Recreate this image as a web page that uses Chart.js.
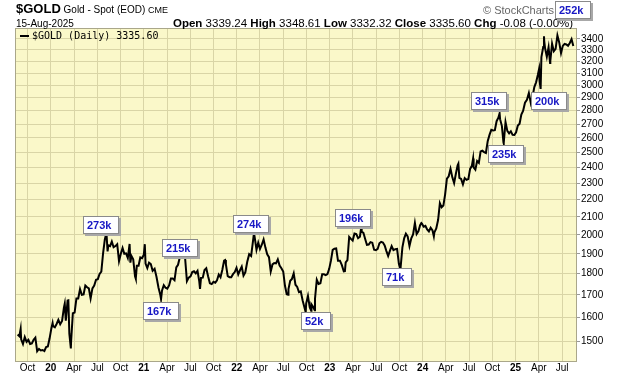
<!DOCTYPE html>
<html>
<head>
<meta charset="utf-8">
<script src="https://cdn.jsdelivr.net/npm/chart.js@4"></script>
<style>
  html, body { margin: 0; padding: 0; background: #fff; }
</style>
</head>
<body>
<canvas id="gold-chart" width="620" height="376"></canvas>
<script>
// Friday closes, one array per year; first Friday of each array below
const firstFriday = { 2019: '2019-08-23', 2020: '2020-01-03', 2021: '2021-01-01', 2022: '2022-01-07', 2023: '2023-01-06', 2024: '2024-01-05', 2025: '2025-01-03' };
const weekly2019 = [1527, 1520, 1507, 1488, 1516, 1497, 1505, 1488, 1490, 1505, 1514, 1459, 1468, 1462, 1464, 1460, 1476, 1478, 1511];
const weekly2020 = [1552, 1562, 1557, 1571, 1589, 1570, 1584, 1643, 1585, 1674, 1530, 1498, 1617, 1620, 1683, 1683, 1727, 1700, 1702, 1743, 1735, 1730, 1683, 1730, 1743, 1771, 1774, 1799, 1810, 1902, 1975, 2000, 1944, 1940, 1964, 1934, 1940, 1950, 1862, 1900, 1930, 1900, 1902, 1879, 1951, 1889, 1872, 1788, 1839, 1839, 1881, 1877];
const weekly2021 = [1895, 1850, 1828, 1855, 1848, 1814, 1824, 1784, 1734, 1700, 1720, 1745, 1733, 1729, 1744, 1777, 1777, 1769, 1831, 1844, 1881, 1895, 1891, 1877, 1764, 1781, 1787, 1808, 1812, 1802, 1814, 1763, 1780, 1781, 1818, 1827, 1788, 1754, 1750, 1761, 1757, 1768, 1796, 1783, 1818, 1865, 1846, 1788, 1783, 1783, 1798, 1808, 1829];
const weekly2022 = [1797, 1817, 1835, 1791, 1807, 1859, 1898, 1889, 1966, 1985, 1921, 1958, 1925, 1947, 1975, 1932, 1897, 1883, 1811, 1846, 1853, 1851, 1871, 1840, 1827, 1811, 1742, 1703, 1727, 1766, 1775, 1802, 1747, 1737, 1712, 1716, 1675, 1644, 1661, 1695, 1644, 1657, 1645, 1681, 1771, 1751, 1754, 1797, 1797, 1793, 1798, 1824];
const weekly2023 = [1865, 1920, 1926, 1928, 1865, 1865, 1842, 1811, 1856, 1868, 1989, 1978, 1969, 2007, 2004, 1982, 1990, 2017, 2011, 1977, 1946, 1948, 1961, 1958, 1921, 1919, 1925, 1955, 1962, 1959, 1943, 1914, 1889, 1915, 1940, 1919, 1924, 1925, 1849, 1833, 1933, 1981, 2006, 1992, 1940, 1981, 2002, 2065, 2004, 2019, 2053, 2063];
const weekly2024 = [2045, 2049, 2029, 2018, 2039, 2024, 2013, 2035, 2083, 2179, 2155, 2165, 2232, 2329, 2344, 2392, 2337, 2301, 2360, 2414, 2334, 2327, 2293, 2332, 2321, 2326, 2391, 2411, 2401, 2386, 2443, 2431, 2507, 2512, 2503, 2497, 2577, 2622, 2658, 2653, 2656, 2721, 2747, 2736, 2685, 2563, 2715, 2650, 2633, 2648, 2622, 2621];
const weekly2025 = [2640, 2690, 2703, 2770, 2798, 2861, 2883, 2936, 2858, 2910, 2984, 3023, 3084, 3037, 3237, 3327, 3319, 3240, 3325, 3203, 3357, 3289, 3310, 3433, 3368, 3273, 3337, 3355, 3350, 3337, 3363, 3398, 3336];

// single sessions that stick out between the Friday closes
const spikeDays = ['2019-09-04', '2020-01-08', '2020-02-24', '2020-03-09', '2020-03-19', '2020-08-06', '2020-08-11', '2020-11-09', '2020-11-30', '2021-01-05', '2021-03-08', '2021-08-09', '2021-11-16', '2022-03-08', '2022-07-21', '2022-09-28', '2022-10-20', '2022-11-03', '2023-02-28', '2023-05-03', '2023-10-05', '2023-12-27', '2024-02-14', '2024-05-20', '2024-07-17', '2024-10-30', '2024-11-14', '2025-04-02', '2025-04-08', '2025-04-21', '2025-04-22', '2025-05-15'];
const spikeClose = [1550, 1575, 1660, 1675, 1470, 2008, 1912, 1855, 1776, 1950, 1680, 1728, 1868, 2010, 1700, 1622, 1628, 1630, 1812, 2040, 1820, 2065, 1992, 2425, 2460, 2780, 2570, 3135, 2970, 3424, 3381, 3186];

// quarter ticks, in months from Jan 2020
const xTickMonths = [-3, 0, 3, 6, 9, 12, 15, 18, 21, 24, 27, 30, 33, 36, 39, 42, 45, 48, 51, 54, 57, 60, 63, 66];
const monthNames = { 3: 'Apr', 6: 'Jul', 9: 'Oct' };
const yTicks = [1500, 1600, 1700, 1800, 1900, 2000, 2100, 2200, 2300, 2400, 2500, 2600, 2700, 2800, 2900, 3000, 3100, 3200, 3300, 3400];

// volume call-outs: text, month of box centre, price where the box meets the line
const noteText = ['273k', '215k', '274k', '167k', '196k', '52k', '71k', '315k', '235k', '200k', '252k'];
const noteMonth = [6.5, 16.7, 25.8, 14.2, 39.0, 34.2, 44.7, 56.6, 58.7, 64.3, 67.4];
const notePrice = [2004, 1883, 2010, 1667, 2043, 1623, 1828, 2805, 2550, 2945, 3590];
const noteSide = ['above', 'above', 'above', 'below', 'above', 'below', 'below', 'above', 'below', 'below', 'above'];

const quote = { date: '15-Aug-2025', open: '3339.24', high: '3348.61', low: '3332.32', close: '3335.60', chg: '-0.08 (-0.00%)' };

function monthOffset(d) {
  const y = d.getUTCFullYear(), m = d.getUTCMonth();
  const dim = new Date(Date.UTC(y, m + 1, 0)).getUTCDate();
  return (y - 2020) * 12 + m + (d.getUTCDate() - 1) / dim;
}

const weeklyByYear = { 2019: weekly2019, 2020: weekly2020, 2021: weekly2021, 2022: weekly2022, 2023: weekly2023, 2024: weekly2024, 2025: weekly2025 };
const points = [];
Object.keys(weeklyByYear).forEach(yr => {
  const start = new Date(firstFriday[yr] + 'T00:00:00Z').getTime();
  weeklyByYear[yr].forEach((v, i) => {
    points.push({ x: monthOffset(new Date(start + i * 7 * 86400000)), y: v });
  });
});
spikeDays.forEach((d, i) => {
  points.push({ x: monthOffset(new Date(d + 'T00:00:00Z')), y: spikeClose[i] });
});
points.sort((a, b) => a.x - b.x);

const FONT = '"Liberation Sans", Arial, sans-serif';
const gridColor = '#d9d5a6';

function drawRun(ctx, x, y, parts) {
  parts.forEach(p => {
    ctx.font = p[1];
    ctx.fillText(p[0], x, y);
    x += ctx.measureText(p[0]).width;
  });
}

const paperPlugin = {
  id: 'paper',
  beforeDraw(chart) {
    const { ctx, chartArea: a } = chart;
    ctx.save();
    ctx.fillStyle = '#fff';
    ctx.fillRect(0, 0, chart.width, chart.height);
    ctx.fillStyle = '#faf8c9';
    ctx.fillRect(a.left, a.top, a.right - a.left, a.bottom - a.top);
    ctx.restore();
  },
  afterDraw(chart) {
    const { ctx, chartArea: a } = chart;
    const xs = chart.scales.x, ys = chart.scales.y;
    ctx.save();
    ctx.strokeStyle = '#aaa78a';
    ctx.lineWidth = 1;
    ctx.strokeRect(a.left - 0.5, a.top - 0.5, a.right - a.left + 1, a.bottom - a.top + 1);

    // in-chart legend
    ctx.fillStyle = '#000';
    ctx.fillRect(a.left + 4, a.top + 6, 9, 2);
    ctx.font = '10px "DejaVu Sans Mono", monospace';
    ctx.textBaseline = 'alphabetic';
    ctx.fillText('$GOLD (Daily) ' + quote.close, a.left + 16, a.top + 10);

    // header
    ctx.fillStyle = '#000';
    drawRun(ctx, 16, 13, [['$GOLD', 'bold 13px ' + FONT], [' Gold - Spot (EOD) ', '10px ' + FONT], ['CME', '9px ' + FONT]]);
    ctx.font = '10px ' + FONT;
    ctx.fillText(quote.date, 16, 27);
    const b = 'bold 11.5px ' + FONT, r = '11.5px ' + FONT;
    drawRun(ctx, 173, 27, [['Open', b], [' ' + quote.open + ' ', r], ['High', b], [' ' + quote.high + ' ', r], ['Low', b], [' ' + quote.low + ' ', r], ['Close', b], [' ' + quote.close + ' ', r], ['Chg', b], [' ' + quote.chg, r]]);
    ctx.fillStyle = '#666';
    ctx.font = '11px ' + FONT;
    ctx.fillText('\u00a9 StockCharts.com', 483, 14);

    // call-out boxes
    ctx.font = 'bold 11px ' + FONT;
    noteText.forEach((t, i) => {
      const cx = xs.getPixelForValue(noteMonth[i]);
      const py = ys.getPixelForValue(notePrice[i]);
      const w = Math.round(ctx.measureText(t).width + 12), h = 18;
      const left = Math.round(cx - w / 2);
      const top = noteSide[i] === 'above' ? Math.round(py - h) : Math.round(py);
      ctx.fillStyle = '#a8a8a8';
      ctx.fillRect(left + 2, top + 2, w, h);
      ctx.fillStyle = '#fff';
      ctx.fillRect(left, top, w, h);
      ctx.strokeStyle = '#8a8a8a';
      ctx.strokeRect(left + 0.5, top + 0.5, w - 1, h - 1);
      ctx.fillStyle = '#1717c4';
      ctx.fillText(t, left + 4, top + 13);
    });
    ctx.restore();
  }
};

const ctx = document.getElementById('gold-chart').getContext('2d');
new Chart(ctx, {
  type: 'line',
  data: {
    datasets: [{
      label: '$GOLD (Daily)',
      data: points,
      borderColor: '#000',
      borderWidth: 2,
      pointRadius: 0,
      tension: 0,
      fill: false
    }]
  },
  options: {
    responsive: false,
    animation: false,
    devicePixelRatio: 1,
    layout: { padding: { left: 16, top: 29, right: 0, bottom: 0 } },
    plugins: {
      legend: { display: false },
      tooltip: { enabled: false }
    },
    scales: {
      x: {
        type: 'linear',
        min: -4.5,
        max: 67.8,
        afterBuildTicks: s => { s.ticks = xTickMonths.map(v => ({ value: v })); },
        afterFit: s => { s.height = 15; },
        grid: { color: gridColor, drawTicks: false },
        border: { display: false },
        ticks: {
          autoSkip: false,
          maxRotation: 0,
          padding: 1,
          color: '#000',
          font: c => {
            const v = c.tick ? c.tick.value : 1;
            return ((v % 12) + 12) % 12 === 0 ? { family: FONT, size: 10, weight: 'bold' } : { family: FONT, size: 10 };
          },
          callback: v => {
            const m = ((v % 12) + 12) % 12;
            return m === 0 ? String(20 + v / 12) : monthNames[m];
          }
        }
      },
      y: {
        type: 'logarithmic',
        position: 'right',
        min: 1421,
        max: 3493,
        afterBuildTicks: s => { s.ticks = yTicks.map(v => ({ value: v })); },
        afterFit: s => { s.width = 44; },
        grid: { color: gridColor, tickColor: '#999', tickLength: 4 },
        border: { display: false },
        ticks: {
          autoSkip: false,
          padding: 1,
          color: '#000',
          font: { family: FONT, size: 10 },
          callback: v => String(v)
        }
      }
    }
  },
  plugins: [paperPlugin]
});
</script>
</body>
</html>
